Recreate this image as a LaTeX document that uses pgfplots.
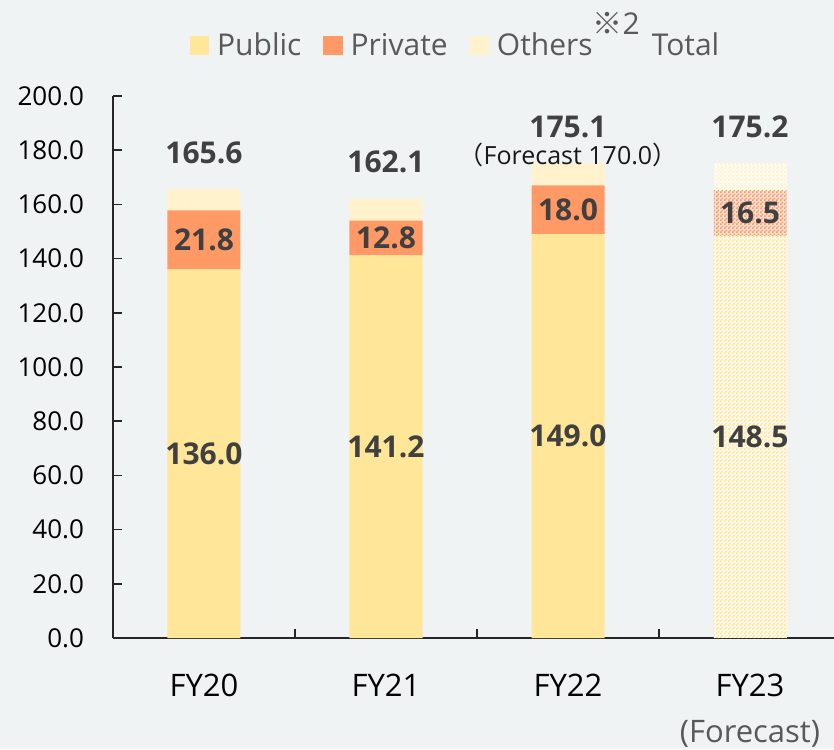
\documentclass[border=0pt]{standalone}
\usepackage{fontspec}
\setmainfont{Open Sans}
\newfontfamily\cjk{Noto Sans CJK JP}
\usepackage{pgfplots}
\pgfplotsset{compat=1.18}
\usetikzlibrary{patterns}
\definecolor{bg}{HTML}{EFF3F4}
\definecolor{pubc}{HTML}{FFE699}
\definecolor{privc}{HTML}{FF9966}
\definecolor{othc}{HTML}{FFF2CC}
\definecolor{lab}{HTML}{404040}
\definecolor{leg}{HTML}{595959}
\pgfdeclarepatternformonly{checker}{\pgfpointorigin}{\pgfqpoint{2pt}{2pt}}{\pgfqpoint{2pt}{2pt}}{%
  \pgfpathrectangle{\pgfpointorigin}{\pgfqpoint{1pt}{1pt}}%
  \pgfpathrectangle{\pgfqpoint{1pt}{1pt}}{\pgfqpoint{1pt}{1pt}}%
  \pgfusepath{fill}}
\tikzset{lbl/.style={font=\bfseries\fontsize{15}{15}\selectfont, text=lab}}
\begin{document}
\begin{tikzpicture}
\fill[bg] (-56.5pt,-55.5pt) rectangle ++(417pt,374.5pt);
\begin{axis}[
  scale only axis, width=364pt, height=271pt,
  xmin=-0.5, xmax=3.5, ymin=0, ymax=200,
  ybar stacked, bar width=36.5pt,
  axis x line=bottom, axis y line=left,
  axis line style={draw=black!85, line width=0.8pt, -},
  xtick={0,1,2,3}, xticklabels={FY20,FY21,FY22,FY23},
  xtick style={draw=none},
  ytick={0,20,...,200},
  tick align=inside, major tick length=4.5pt,
  ytick style={draw=black!85, line width=0.8pt},
  yticklabel style={font=\fontsize{13}{13}\selectfont, xshift=-11pt},
  xticklabel style={font=\fontsize{15.5}{15.5}\selectfont, anchor=base, yshift=-29pt},
  /pgf/number format/fixed, /pgf/number format/fixed zerofill,
  /pgf/number format/precision=1, /pgf/number format/assume math mode=true,
  legend style={draw=none, fill=none, at={(0.472,1.093)}, anchor=center,
    font=\fontsize{15}{15}\selectfont, text=leg,
    /tikz/every even column/.append style={column sep=9pt},
    /tikz/every odd column/.append style={column sep=2pt}},
  legend columns=-1,
]
\addplot[fill=pubc, draw=none, legend image code/.code={\fill[pubc] (0pt,-4.8pt) rectangle (9.6pt,4.8pt);}]
  coordinates {(0,136.0) (1,141.2) (2,149.0) (3,0)};
\addlegendentry{Public}
\addplot[fill=privc, draw=none, legend image code/.code={\fill[privc] (0pt,-4.8pt) rectangle (9.6pt,4.8pt);}]
  coordinates {(0,21.8) (1,12.8) (2,18.0) (3,0)};
\addlegendentry{Private}
\addplot[fill=othc, draw=none, legend image code/.code={\fill[othc] (0pt,-4.8pt) rectangle (9.6pt,4.8pt);}]
  coordinates {(0,7.8) (1,8.1) (2,8.1) (3,0)};
\addlegendentry{Others\smash{\raisebox{10.5pt}{{\cjk ※}2}}\hspace{6pt}Total}
% FY23 forecast (patterned)
\addplot[fill=pubc!20!white, draw=none, postaction={pattern=checker, pattern color=pubc}]
  coordinates {(0,0) (1,0) (2,0) (3,148.5)};
\addplot[fill=privc!30!white, draw=none, postaction={pattern=checker, pattern color=privc}]
  coordinates {(0,0) (1,0) (2,0) (3,16.5)};
\addplot[fill=othc!25!white, draw=none, postaction={pattern=checker, pattern color=othc}]
  coordinates {(0,0) (1,0) (2,0) (3,10.2)};
% positions for the text labels (drawn after the axis, above the bars)
\coordinate (t1) at (axis cs:0.5,0);
\coordinate (t2) at (axis cs:1.5,0);
\coordinate (t3) at (axis cs:2.5,0);
\coordinate (p0) at (axis cs:0,68.0);
\coordinate (p1) at (axis cs:1,70.6);
\coordinate (p2) at (axis cs:2,74.5);
\coordinate (p3) at (axis cs:3,74.25);
\coordinate (v0) at (axis cs:0,146.9);
\coordinate (v1) at (axis cs:1,147.6);
\coordinate (v2) at (axis cs:2,158.0);
\coordinate (v3) at (axis cs:3,156.75);
\coordinate (s0) at (axis cs:0,179.1);
\coordinate (s1) at (axis cs:1,175.6);
\coordinate (s2) at (axis cs:2,188.6);
\coordinate (s3) at (axis cs:3,188.6);
\coordinate (fc) at (axis cs:2,178.2);
\coordinate (f3) at (axis cs:3,0);
\end{axis}
\foreach \t in {t1,t2,t3}
  \draw[black!85, line width=0.8pt] (\t) -- ([yshift=4.5pt]\t);
\node[lbl] at (p0) {136.0};
\node[lbl] at (p1) {141.2};
\node[lbl] at (p2) {149.0};
\node[lbl] at (p3) {148.5};
\node[lbl] at (v0) {21.8};
\node[lbl] at (v1) {12.8};
\node[lbl] at (v2) {18.0};
\node[lbl] at (v3) {16.5};
\node[lbl] at (s0) {165.6};
\node[lbl] at (s1) {162.1};
\node[lbl] at (s2) {175.1};
\node[lbl] at (s3) {175.2};
\node[font=\fontsize{12.5}{12.5}\selectfont, text=black!90] at (fc) {{\cjk （}Forecast 170.0{\cjk ）}};
\node[font=\fontsize{15.5}{15.5}\selectfont, text=leg, anchor=base] at ([yshift=-52pt]f3) {(Forecast)};
\pgfresetboundingbox
\useasboundingbox (-56.5pt,-55.5pt) rectangle ++(417pt,374.5pt);
\end{tikzpicture}
\end{document}
